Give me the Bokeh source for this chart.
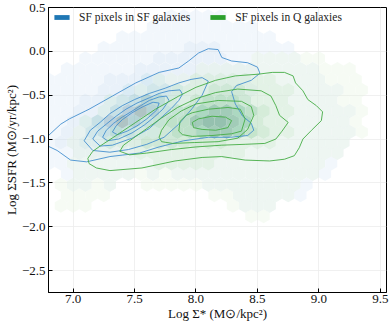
import math
from bokeh.plotting import figure
from bokeh.models import Range1d, FixedTicker, Legend, LegendItem, ColumnDataSource
from bokeh.embed import file_html
from bokeh.resources import INLINE

# ---------------- data ----------------
x_ticks = [7.0, 7.5, 8.0, 8.5, 9.0, 9.5]
x_tick_labels = ["7.0", "7.5", "8.0", "8.5", "9.0", "9.5"]
y_ticks = [0.5, 0.0, -0.5, -1.0, -1.5, -2.0, -2.5]
y_tick_labels = ["0.5", "0.0", "\u22120.5", "\u22121.0", "\u22121.5", "\u22122.0", "\u22122.5"]
legend_labels = ["SF pixels in SF galaxies", "SF pixels in Q galaxies"]
x_label = "Log \u03a3* (M\u2299/kpc\u00b2)"
y_label = "Log \u03a3SFR (M\u2299/yr/kpc\u00b2)"

# hexbin density (0 = empty cell), columns at hex_col_x, rows at hex_row_y
hex_col_x = [6.8, 6.9, 7.0, 7.1, 7.2, 7.3, 7.4, 7.5, 7.6, 7.7, 7.8, 7.9, 8.0, 8.1,
             8.2, 8.3, 8.4, 8.5, 8.6, 8.7, 8.8, 8.9, 9.0, 9.1, 9.2, 9.3, 9.4, 9.5]
hex_row_y = [0.40, 0.28, 0.16, 0.04, -0.08, -0.20, -0.32, -0.44, -0.56, -0.68,
             -0.80, -0.92, -1.04, -1.16, -1.28, -1.40, -1.52, -1.64, -1.76, -1.88]
blue_density = [
    "0000000000111110000000000000",
    "0000000011111111100000000000",
    "0000001111111111111000000000",
    "0000111111122211111100000000",
    "0001111112222221111110000000",
    "0111111222222222211111000000",
    "1111122233222222211111100000",
    "1111223344322222211111110000",
    "1112234565322222211111110000",
    "1122357864322222211111111000",
    "1123578643222222211111111000",
    "1224554332222222111111111000",
    "1223332222211111111111111000",
    "1122222111111111111111110000",
    "1111111111111111111111110000",
    "0111111010111111111111100000",
    "0011010000000111111111000000",
    "0000000000000001111110000000",
    "0000000000000000111000000000",
    "0000000000000000000000000000",
]
green_density = [
    "0000000000000000000000000000",
    "0000000000000000000000000000",
    "0000000000000000000000000000",
    "0000000000000000000000000000",
    "0000000000000000011111100000",
    "0000000000001111111111111000",
    "0000000001112222222111111100",
    "0000000111222333222211111100",
    "0000011122223444322211111100",
    "0000111222345665432211111100",
    "0001112223446776532211111100",
    "0011122223445665432211111100",
    "0011122233333332222111111000",
    "0011111222222222111111110000",
    "0011111112222211111111100000",
    "0011111111111111111111000000",
    "0111110011111111111110000000",
    "0111100000000111111100000000",
    "0111000000000001111000000000",
    "0000000000000000110000000000",
]

# KDE contour lines (x = log Sigma_*, y = log Sigma_SFR)
blue_contours = [
    [(6.70, -1.02), (6.80, -0.96), (6.90, -0.83), (6.97, -0.77), (7.13, -0.66), (7.32, -0.51),
     (7.51, -0.36), (7.70, -0.24), (7.86, -0.19), (7.94, -0.11), (8.02, -0.02), (8.10, 0.03),
     (8.18, 0.02), (8.21, -0.07), (8.29, -0.11), (8.42, -0.13), (8.50, -0.18), (8.52, -0.25),
     (8.45, -0.33), (8.33, -0.39), (8.29, -0.46), (8.32, -0.60), (8.38, -0.74), (8.45, -0.82),
     (8.47, -0.90), (8.42, -0.96), (8.28, -0.98), (8.10, -0.98), (7.90, -1.02), (7.70, -1.09),
     (7.54, -1.16), (7.30, -1.20), (7.11, -1.26), (6.98, -1.24), (6.87, -1.13), (6.78, -1.07),
     (6.70, -1.05)],
    [(7.09, -1.02), (7.14, -0.90), (7.22, -0.81), (7.30, -0.71), (7.40, -0.62), (7.50, -0.55),
     (7.62, -0.48), (7.75, -0.42), (7.86, -0.36), (7.96, -0.32), (8.05, -0.30), (8.10, -0.34),
     (8.05, -0.50), (7.97, -0.65), (7.86, -0.83), (7.74, -0.98), (7.60, -1.06), (7.45, -1.12),
     (7.30, -1.15), (7.16, -1.13), (7.09, -1.02)],
    [(7.16, -1.00), (7.20, -0.91), (7.27, -0.83), (7.35, -0.74), (7.43, -0.66), (7.52, -0.59),
     (7.62, -0.53), (7.70, -0.48), (7.78, -0.45), (7.87, -0.44), (7.89, -0.49), (7.86, -0.56),
     (7.80, -0.65), (7.73, -0.74), (7.62, -0.88), (7.48, -0.99), (7.32, -1.07), (7.22, -1.08),
     (7.16, -1.00)],
    [(7.24, -0.98), (7.27, -0.90), (7.33, -0.82), (7.40, -0.75), (7.47, -0.69), (7.55, -0.62),
     (7.62, -0.56), (7.70, -0.52), (7.76, -0.51), (7.78, -0.56), (7.73, -0.66), (7.66, -0.75),
     (7.58, -0.84), (7.48, -0.93), (7.37, -1.00), (7.28, -1.02), (7.24, -0.98)],
    [(7.32, -0.92), (7.35, -0.85), (7.40, -0.78), (7.48, -0.70), (7.57, -0.63), (7.65, -0.58),
     (7.70, -0.59), (7.68, -0.67), (7.60, -0.77), (7.52, -0.85), (7.44, -0.91), (7.36, -0.95),
     (7.32, -0.92)],
]
green_contours = [
    [(7.12, -1.22), (7.16, -1.14), (7.22, -1.08), (7.35, -0.96), (7.51, -0.81), (7.67, -0.66),
     (7.86, -0.51), (8.00, -0.41), (8.16, -0.33), (8.32, -0.28), (8.51, -0.26), (8.62, -0.24),
     (8.72, -0.24), (8.79, -0.28), (8.81, -0.36), (8.87, -0.45), (8.91, -0.55), (8.98, -0.62),
     (9.03, -0.69), (9.02, -0.79), (8.94, -0.90), (8.87, -1.00), (8.84, -1.10), (8.80, -1.19),
     (8.72, -1.23), (8.60, -1.25), (8.40, -1.24), (8.21, -1.20), (8.05, -1.21), (7.83, -1.25),
     (7.56, -1.33), (7.30, -1.36), (7.19, -1.33), (7.13, -1.28), (7.12, -1.22)],
    [(7.38, -1.14), (7.41, -1.07), (7.48, -1.00), (7.60, -0.88), (7.72, -0.76), (7.85, -0.64),
     (8.00, -0.54), (8.16, -0.47), (8.34, -0.43), (8.53, -0.45), (8.61, -0.51), (8.65, -0.62),
     (8.68, -0.73), (8.75, -0.81), (8.70, -0.91), (8.65, -1.00), (8.56, -1.05), (8.40, -1.06),
     (8.21, -1.07), (8.00, -1.09), (7.80, -1.12), (7.60, -1.16), (7.46, -1.18), (7.38, -1.14)],
    [(7.70, -0.98), (7.72, -0.90), (7.78, -0.78), (7.88, -0.68), (8.00, -0.60), (8.18, -0.56),
     (8.37, -0.57), (8.45, -0.63), (8.47, -0.73), (8.42, -0.89), (8.34, -0.99), (8.18, -1.03),
     (7.99, -1.04), (7.81, -1.05), (7.72, -1.03), (7.70, -0.98)],
    [(7.86, -0.91), (7.87, -0.80), (7.92, -0.73), (7.97, -0.70), (8.10, -0.66), (8.26, -0.64),
     (8.36, -0.66), (8.40, -0.77), (8.37, -0.91), (8.29, -0.94), (8.13, -0.96), (7.97, -0.97),
     (7.89, -0.95), (7.86, -0.91)],
    [(7.97, -0.81), (8.02, -0.77), (8.13, -0.74), (8.24, -0.75), (8.29, -0.79), (8.26, -0.87),
     (8.16, -0.90), (8.05, -0.89), (7.98, -0.87), (7.97, -0.81)],
]

# ---------------- styling ----------------
FONT = "Liberation Serif"
BLUES = ['#deebf7', '#c6dbef', '#9ecae1', '#6baed6', '#4292c6', '#2171b5', '#08519c', '#08306b']
GREENS = ['#e5f5e0', '#c7e9c0', '#a1d99b', '#74c476', '#41ab5d', '#238b45', '#006d2c', '#00441b']

p = figure(width=389, height=323, x_range=Range1d(6.8, 9.55), y_range=Range1d(-2.75, 0.5),
           output_backend="svg", toolbar_location=None,
           min_border_left=45, min_border_right=3, min_border_top=7, min_border_bottom=30)
p.background_fill_color = "white"
p.border_fill_color = "white"
p.outline_line_color = "black"
p.outline_line_width = 1
p.grid.grid_line_color = "#ececec"
p.grid.grid_line_width = 0.8

for ax, ticks, labels, title in ((p.xaxis[0], x_ticks, x_tick_labels, x_label),
                                 (p.yaxis[0], y_ticks, y_tick_labels, y_label)):
    ax.ticker = FixedTicker(ticks=ticks)
    ax.major_label_overrides = {t: l for t, l in zip(ticks, labels)}
    ax.major_tick_in = 4
    ax.major_tick_out = 0
    ax.minor_tick_line_color = None
    ax.axis_line_color = "black"
    ax.major_tick_line_color = "black"
    ax.major_label_text_font = FONT
    ax.major_label_text_font_size = "13px"
    ax.major_label_text_color = "#111111"
    ax.axis_label = title
    ax.axis_label_text_font = FONT
    ax.axis_label_text_font_size = "13px"
    ax.axis_label_text_font_style = "normal"
    ax.axis_label_text_color = "#111111"
    ax.axis_label_standoff = 0
p.xaxis.major_label_standoff = 2
p.yaxis.major_label_standoff = 3
p.xgrid.ticker = FixedTicker(ticks=x_ticks)
p.ygrid.ticker = FixedTicker(ticks=y_ticks)


def hex_source(density, palette):
    xs, ys, cs = [], [], []
    for j, row in enumerate(density):
        off = 0.05 if j % 2 else 0.0
        for i, ch in enumerate(row):
            k = int(ch)
            if k > 0:
                xs.append(hex_col_x[i] + off)
                ys.append(hex_row_y[j])
                cs.append(palette[min(k, len(palette)) - 1])
    return ColumnDataSource(dict(x=xs, y=ys, c=cs))


p.scatter(x="x", y="y", source=hex_source(blue_density, BLUES), marker="hex", size=14,
          angle=math.pi / 6, fill_color="c", fill_alpha=0.38, line_color=None)
p.scatter(x="x", y="y", source=hex_source(green_density, GREENS), marker="hex", size=14,
          angle=math.pi / 6, fill_color="c", fill_alpha=0.36, line_color=None)

p.multi_line(xs=[[pt[0] for pt in c] for c in blue_contours],
             ys=[[pt[1] for pt in c] for c in blue_contours],
             line_color="#4590cf", line_width=0.9)
p.multi_line(xs=[[pt[0] for pt in c] for c in green_contours],
             ys=[[pt[1] for pt in c] for c in green_contours],
             line_color="#45ad45", line_width=0.9)

# legend proxies (not visible in the plot area)
nan = float("nan")
rb = p.quad(left=[nan], right=[nan], top=[nan], bottom=[nan], fill_color="#1f77b4", line_color=None)
rg = p.quad(left=[nan], right=[nan], top=[nan], bottom=[nan], fill_color="#2ca02c", line_color=None)
legend = Legend(items=[LegendItem(label=legend_labels[0], renderers=[rb]),
                       LegendItem(label=legend_labels[1], renderers=[rg])],
                orientation="horizontal", location="top_left",
                border_line_color=None, background_fill_alpha=0,
                glyph_width=19, glyph_height=6, label_height=6, label_standoff=8,
                spacing=18, padding=9, margin=4,
                label_text_font=FONT, label_text_font_size="11.5px",
                label_text_color="#222222", label_text_baseline="middle")
p.add_layout(legend)

open("out.html", "w").write(file_html(p, INLINE))
